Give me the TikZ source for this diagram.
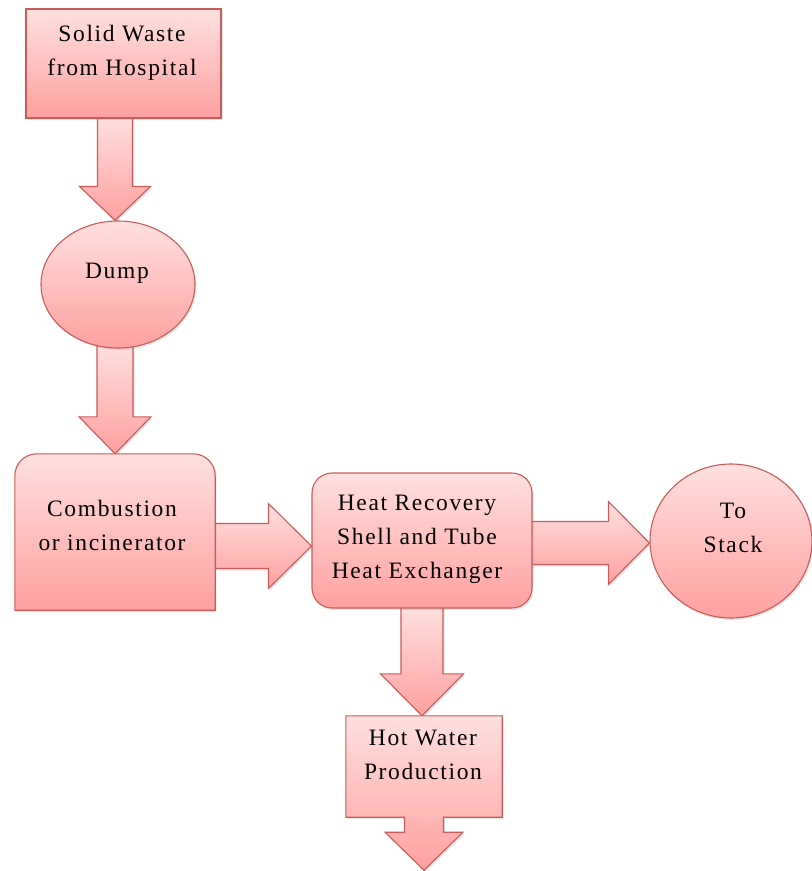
\documentclass[tikz,border=0pt]{standalone}
\usepackage{fontspec}
\setmainfont{Liberation Serif}
\newfontfamily\diagfont[LetterSpace=7]{Liberation Serif}
\usetikzlibrary{calc,shapes.geometric,shadows}
\pgfdeclarelayer{bg}
\pgfsetlayers{bg,main}
\definecolor{pinktop}{RGB}{255,224,224}
\definecolor{pinkbot}{RGB}{255,160,160}
\definecolor{pinkline}{RGB}{200,92,90}
\tikzset{
  pinkfill/.style={top color=pinktop,bottom color=pinkbot,draw=pinkline,line width=1.1pt,
    drop shadow={opacity=0.2,shadow xshift=1.5pt,shadow yshift=-2pt}},
  boxnode/.style={pinkfill,rectangle,inner sep=0pt},
  ellnode/.style={pinkfill,ellipse,inner sep=0pt},
  holder/.style={rectangle,inner sep=0pt},
  txt/.style={align=center,font=\diagfont\fontsize{23.5}{34}\selectfont,text=black,inner sep=0pt},
  blockarrow/.style={pinkfill,line join=miter}
}
% vertical block arrow: start, tip, shaft half width, head half width, head length
\newcommand{\downblk}[5]{%
  \path[blockarrow] ($(#1)+(-#3,0)$) -- ($(#1)+(#3,0)$) -- ($(#2)+(#3,#5)$) -- ($(#2)+(#4,#5)$)
    -- (#2) -- ($(#2)+(-#4,#5)$) -- ($(#2)+(-#3,#5)$) -- cycle;}
% horizontal block arrow
\newcommand{\rightblk}[5]{%
  \path[blockarrow] ($(#1)+(0,#3)$) -- ($(#2)+(-#5,#3)$) -- ($(#2)+(-#5,#4)$) -- (#2)
    -- ($(#2)+(-#5,-#4)$) -- ($(#2)+(-#5,-#3)$) -- ($(#1)+(0,-#3)$) -- cycle;}
\begin{document}
\begin{tikzpicture}[x=1pt,y=1pt]
\useasboundingbox (0,0) rectangle (812,-871);

% shapes
\node[boxnode,minimum width=195pt,minimum height=109pt] (sw) at (123.5,-63.5) {};
\node[ellnode,minimum width=154pt,minimum height=127pt] (dump) at (118,-284.5) {};
\node[holder,minimum width=200pt,minimum height=156pt] (comb) at (115,-532) {};
\path[pinkfill] (comb.south west) -- ([yshift=-22pt]comb.north west)
  arc[start angle=180,end angle=90,radius=22pt] -- ([xshift=-22pt]comb.north east)
  arc[start angle=90,end angle=0,radius=22pt] -- (comb.south east) -- cycle;
\node[boxnode,rounded corners=20pt,minimum width=220pt,minimum height=135pt] (heat) at (422,-540.5) {};
\node[ellnode,minimum width=162pt,minimum height=154pt] (stack) at (731,-541) {};
\node[holder,minimum width=156pt,minimum height=101pt] (hot) at (424,-766.5) {};
\path[pinkfill] (hot.north west) -- (hot.north east) -- (hot.south east)
  -- ($(hot.south)+(19.5,0)$) -- ($(hot.south)+(19.5,-15)$) -- ($(hot.south)+(39,-15)$)
  -- ($(hot.south)+(0,-53)$) -- ($(hot.south)+(-39,-15)$) -- ($(hot.south)+(-19.5,-15)$)
  -- ($(hot.south)+(-19.5,0)$) -- (hot.south west) -- cycle;

% texts
\node[txt] (swt) at ($(sw)+(-1.5,11)$) {Solid Waste\\from Hospital};
\node[txt] (dumpt) at ($(dump)+(-1,11.5)$) {Dump};
\node[txt] (combt) at ($(comb)+(-3,7)$) {Combustion\\or incinerator};
\node[txt] (heatt) at ($(heat)+(-5,1.5)$) {Heat Recovery\\Shell and Tube\\Heat Exchanger};
\node[txt] (stackt) at ($(stack)+(2,13)$) {To\\Stack};
\node[txt] (hott) at ($(hot)+(-1,11.5)$) {Hot Water\\Production};

% connectors (block arrows)
\coordinate (vx) at (115,0);
\coordinate (hy) at (0,-546);
\coordinate (hy2) at (0,-543);
\coordinate (a1s) at ($(sw.south -| vx)+(0,3)$);
\coordinate (a1e) at (dump.north -| vx);
\coordinate (a2s) at ($(dump.south -| vx)+(0,5)$);
\coordinate (a2e) at (comb.north -| vx);
\coordinate (a3s) at ($(comb.east |- hy)+(-3,0)$);
\coordinate (a3e) at (heat.west |- hy);
\coordinate (a4s) at ($(heat.east |- hy2)+(-3,0)$);
\coordinate (a4e) at (stack.west |- hy2);
\coordinate (a5s) at ($(heat.south)+(0,3)$);
\coordinate (a5e) at (hot.north -| heat.south);
\begin{pgfonlayer}{bg}
\downblk{a1s}{a1e}{17.5}{35.5}{34}
\downblk{a2s}{a2e}{18}{36}{37}
\rightblk{a3s}{a3e}{22.5}{42.5}{43}
\rightblk{a4s}{a4e}{21.5}{41.5}{41}
\downblk{a5s}{a5e}{21}{41.5}{42}
\end{pgfonlayer}
\end{tikzpicture}
\end{document}
